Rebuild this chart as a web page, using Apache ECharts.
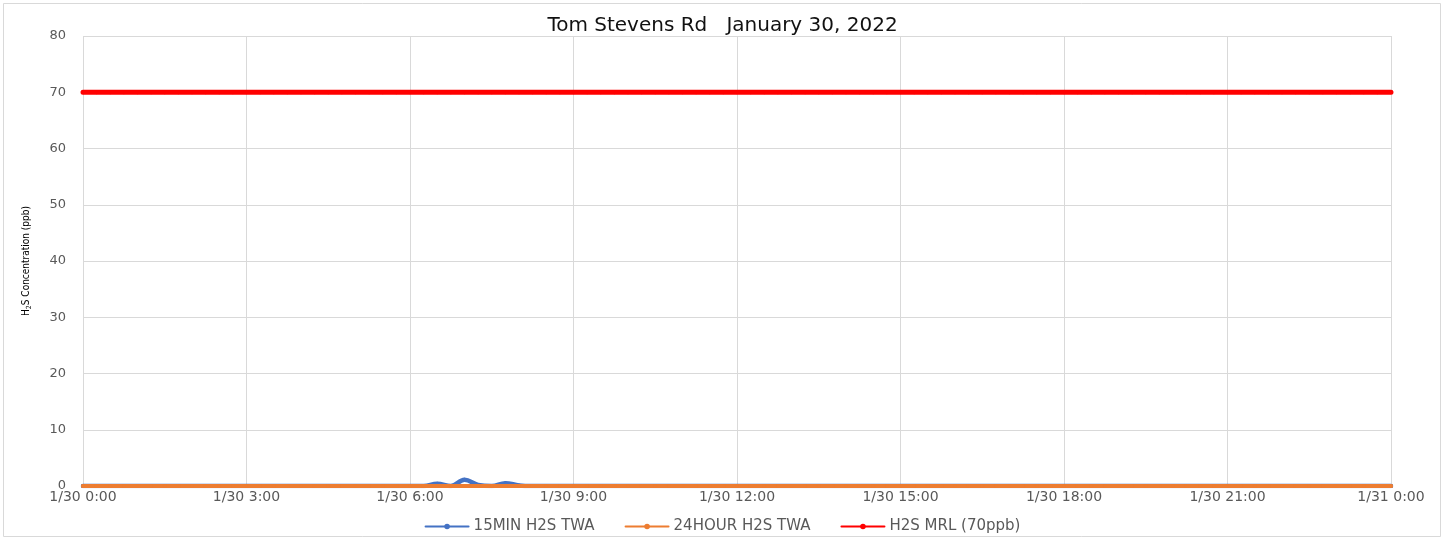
<!DOCTYPE html>
<html>
<head>
<meta charset="utf-8">
<script src="https://cdn.jsdelivr.net/npm/echarts@6/dist/echarts.min.js"></script>
<style>
html,body{margin:0;padding:0;background:#fff;}
#c{width:1445px;height:540px;}
</style>
</head>
<body>
<div id="c"></div>
<script>
// Hours since 1/30 0:00, 15-minute readings
var hours = [0,0.25,0.5,0.75,1,1.25,1.5,1.75,2,2.25,2.5,2.75,3,3.25,3.5,3.75,4,4.25,4.5,4.75,5,5.25,5.5,5.75,6,6.25,6.5,6.75,7,7.25,7.5,7.75,8,8.25,8.5,8.75,9,9.25,9.5,9.75,10,10.25,10.5,10.75,11,11.25,11.5,11.75,12,12.25,12.5,12.75,13,13.25,13.5,13.75,14,14.25,14.5,14.75,15,15.25,15.5,15.75,16,16.25,16.5,16.75,17,17.25,17.5,17.75,18,18.25,18.5,18.75,19,19.25,19.5,19.75,20,20.25,20.5,20.75,21,21.25,21.5,21.75,22,22.25,22.5,22.75,23,23.25,23.5,23.75,24];
var min15 = [0,0,0,0,0,0,0,0,0,0,0,0,0,0,0,0,0,0,0,0,0,0,0,0,0,0,0.4,0,1.1,0.2,0,0.5,0.1,0,0,0,0,0,0,0,0,0,0,0,0,0,0,0,0,0,0,0,0,0,0,0,0,0,0,0,0,0,0,0,0,0,0,0,0,0,0,0,0,0,0,0,0,0,0,0,0,0,0,0,0,0,0,0,0,0,0,0,0,0,0,0,0];
var hour24 = [0,0,0,0,0,0,0,0,0,0,0,0,0,0,0,0,0,0,0,0,0,0,0,0,0,0,0,0,0,0,0,0,0,0,0,0,0,0,0,0,0,0,0,0,0,0,0,0,0,0,0,0,0,0,0,0,0,0,0,0,0,0,0,0,0,0,0,0,0,0,0,0,0,0,0,0,0,0,0,0,0,0,0,0,0,0,0,0,0,0,0,0,0,0,0,0,0];
var mrl = [70,70,70,70,70,70,70,70,70,70,70,70,70,70,70,70,70,70,70,70,70,70,70,70,70,70,70,70,70,70,70,70,70,70,70,70,70,70,70,70,70,70,70,70,70,70,70,70,70,70,70,70,70,70,70,70,70,70,70,70,70,70,70,70,70,70,70,70,70,70,70,70,70,70,70,70,70,70,70,70,70,70,70,70,70,70,70,70,70,70,70,70,70,70,70,70,70];
var xTickLabels = ['1/30 0:00','1/30 3:00','1/30 6:00','1/30 9:00','1/30 12:00','1/30 15:00','1/30 18:00','1/30 21:00','1/31 0:00'];
var seriesNames = ['15MIN H2S TWA','24HOUR H2S TWA','H2S MRL (70ppb)'];
var titleText = 'Tom Stevens Rd   January 30, 2022';

function pairs(vals){ return vals.map(function(v,i){ return [hours[i], v]; }); }

var chart = echarts.init(document.getElementById('c'));
var FONT = '"DejaVu Sans", sans-serif';
chart.setOption({
  animation:false,
  backgroundColor:'#fff',
  graphic:[{type:'rect',shape:{x:3.5,y:3.5,width:1437,height:533},style:{fill:'none',stroke:'#d9d9d9',lineWidth:1},silent:true}],
  title:{text:titleText,left:'center',top:11,textStyle:{fontFamily:FONT,fontSize:20,fontWeight:'normal',color:'#111'}},
  grid:{left:83,right:54,top:36,bottom:54,containLabel:false},
  legend:{bottom:1,left:'center',itemWidth:43,itemHeight:7,itemGap:30,
    textStyle:{fontFamily:FONT,fontSize:15,color:'#595959'},
    data:seriesNames},
  xAxis:{type:'value',min:0,max:24,interval:3,
    axisLine:{show:false},axisTick:{show:false},
    splitLine:{show:true,lineStyle:{color:'#d9d9d9',width:1}},
    axisLabel:{fontFamily:FONT,fontSize:14,color:'#595959',margin:4,
      formatter:function(v){ return xTickLabels[Math.round(v/3)]; }}},
  yAxis:{type:'value',min:0,max:80,interval:10,
    name:'{a|H}{s|2}{a|S Concentration (ppb)}',nameLocation:'middle',nameGap:50,nameRotate:90,
    nameTextStyle:{rich:{a:{fontFamily:'"Liberation Sans Narrow", "DejaVu Sans Condensed", sans-serif',fontSize:10,color:'#000'},
      s:{fontFamily:'"Liberation Sans Narrow", "DejaVu Sans Condensed", sans-serif',fontSize:7,color:'#000',padding:[6,0,0,0]}}},
    axisLine:{show:false},axisTick:{show:false},
    splitLine:{lineStyle:{color:'#d9d9d9',width:1}},
    axisLabel:{fontFamily:FONT,fontSize:13,color:'#595959',margin:17}},
  series:[
    {name:seriesNames[0],type:'line',data:pairs(min15),smooth:0.4,
      symbol:'circle',symbolSize:4,showSymbol:true,
      lineStyle:{color:'#4472C4',width:4.5,cap:'round'},itemStyle:{color:'#4472C4'},z:2},
    {name:seriesNames[1],type:'line',data:pairs(hour24),
      symbol:'circle',symbolSize:4,
      lineStyle:{color:'#ED7D31',width:4,cap:'round'},itemStyle:{color:'#ED7D31'},z:3},
    {name:seriesNames[2],type:'line',data:pairs(mrl),
      symbol:'circle',symbolSize:4,
      lineStyle:{color:'#FF0000',width:5,cap:'round'},itemStyle:{color:'#FF0000'},z:4}
  ]
});
</script>
</body>
</html>
